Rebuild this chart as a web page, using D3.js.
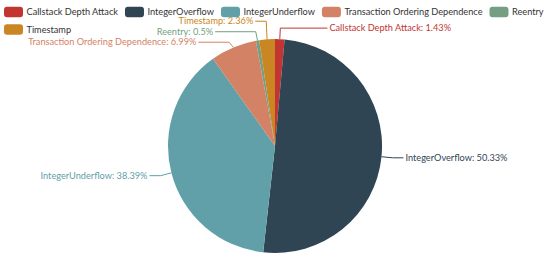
<!DOCTYPE html>
<html>
<head>
<meta charset="utf-8">
<script src="https://cdn.jsdelivr.net/npm/d3@7"></script>
<style>
  body { margin: 0; background: #fff; }
  svg { display: block; font-family: Lato, "Noto Sans", sans-serif; }
</style>
</head>
<body>
<div id="chart"></div>
<script>
// data
const categories = ["Callstack Depth Attack", "IntegerOverflow", "IntegerUnderflow",
    "Transaction Ordering Dependence", "Reentry", "Timestamp"];
const percents = [1.43, 50.33, 38.39, 6.99, 0.5, 2.36];
const palette = ["#c23531", "#2f4554", "#61a0a8", "#d48265", "#749f83", "#ca8622"];

// formatting constants
const width = 550;
const height = 258;
const cx = 275, cy = 146, radius = 107;
const len1 = 11, len2 = 11;
const fontSize = 9.2;
const labelGap = 10.5;

const data = categories.map((name, i) => ({name: name, value: percents[i]}));
const color = d3.scaleOrdinal().domain(categories).range(palette);

const svg = d3.select("#chart")
    .append("svg")
        .attr("width", width)
        .attr("height", height);

// legend
const legend = svg.append("g").attr("font-size", fontSize);
let lx = 4, ly = 12;
categories.forEach(name => {
    const item = legend.append("g");
    item.append("rect")
        .attr("width", 19).attr("height", 10.5)
        .attr("y", -5.25).attr("rx", 3)
        .attr("fill", color(name));
    const t = item.append("text")
        .attr("x", 22.5).attr("dy", "0.35em")
        .attr("fill", "#333")
        .text(name);
    const w = 22.5 + t.node().getComputedTextLength();
    if (lx + w > width) { lx = 4; ly += 17.5; }
    item.attr("transform", `translate(${lx}, ${ly})`);
    lx += w + 7;
});

// pie
const pie = d3.pie().value(d => d.value).sort(null);
const arc = d3.arc().innerRadius(0).outerRadius(radius);
const arcs = pie(data);

const g = svg.append("g").attr("transform", `translate(${cx}, ${cy})`);
g.selectAll("path")
    .data(arcs)
    .join("path")
        .attr("d", arc)
        .attr("fill", d => color(d.data.name));

// label layout, similar to echarts
const labels = arcs.map(d => {
    const a = (d.startAngle + d.endAngle) / 2;
    const s = Math.sin(a), c = -Math.cos(a);
    const left = s < 0;
    return {
        d: d,
        left: left,
        x1: s * radius, y1: c * radius,
        x2: s * (radius + len1), y2: c * (radius + len1),
        y: c * (radius + len1),
        x: s * (radius + len1) + (left ? -len2 : len2)
    };
});

// push overlapping labels apart on each side
[true, false].forEach(side => {
    const list = labels.filter(l => l.left === side).sort((a, b) => a.y - b.y);
    let clusters = list.map(l => ({items: [l], mean: l.y}));
    let merged = true;
    while (merged) {
        merged = false;
        for (let i = 0; i < clusters.length - 1; i++) {
            const a = clusters[i], b = clusters[i + 1];
            const aEnd = a.mean + (a.items.length - 1) * labelGap / 2;
            const bStart = b.mean - (b.items.length - 1) * labelGap / 2;
            if (bStart - aEnd < labelGap) {
                const items = a.items.concat(b.items);
                clusters.splice(i, 2, {items: items, mean: d3.mean(items, l => l.y)});
                merged = true;
                break;
            }
        }
    }
    clusters.forEach(cl => {
        cl.items.forEach((l, i) => {
            l.y = cl.mean + (i - (cl.items.length - 1) / 2) * labelGap;
        });
    });
    list.forEach(l => {
        const dy = Math.abs(l.y);
        const dir = l.left ? -1 : 1;
        const dx = dy < radius + len1
            ? Math.sqrt((radius + len1 + len2) ** 2 - dy * dy)
            : Math.abs(l.x);
        l.x = dir * dx;
    });
});

g.selectAll("polyline")
    .data(labels)
    .join("polyline")
        .attr("points", l => [[l.x1, l.y1], [l.x2, l.y], [l.x, l.y]].map(p => p.join(",")).join(" "))
        .attr("fill", "none")
        .attr("stroke", l => color(l.d.data.name))
        .attr("stroke-width", 1);

g.selectAll("text.label")
    .data(labels)
    .join("text")
        .attr("class", "label")
        .attr("x", l => l.x + (l.left ? -2 : 2))
        .attr("y", l => l.y)
        .attr("dy", "0.35em")
        .attr("text-anchor", l => l.left ? "end" : "start")
        .attr("font-size", fontSize)
        .attr("fill", l => color(l.d.data.name))
        .text(l => `${l.d.data.name}: ${l.d.data.value}%`);
</script>
</body>
</html>
